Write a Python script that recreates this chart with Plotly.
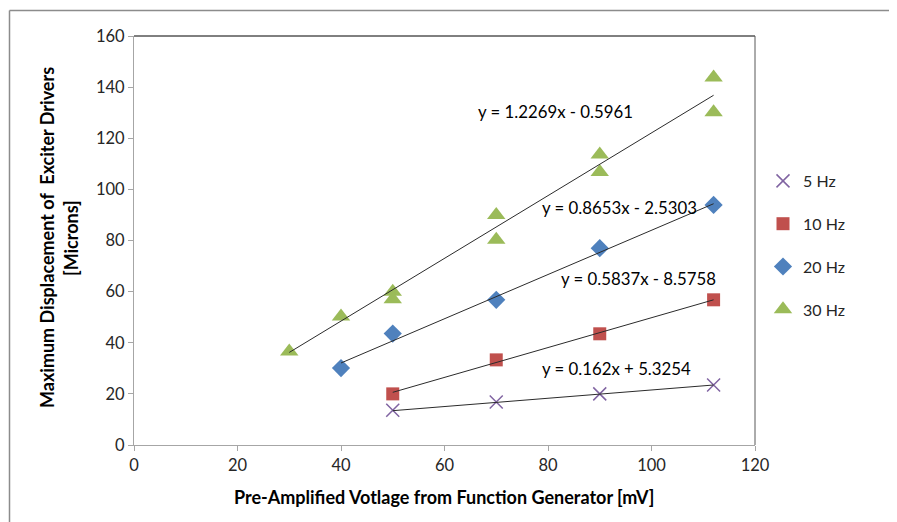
import plotly.graph_objects as go

# ---- data ----
series_names = ["5 Hz", "10 Hz", "20 Hz", "30 Hz"]
x_5hz = [50, 70, 90, 112]
y_5hz = [13.6, 16.8, 20.0, 23.5]
x_10hz = [50, 70, 90, 112]
y_10hz = [20.0, 33.3, 43.5, 56.8]
x_20hz = [40, 50, 70, 90, 112]
y_20hz = [30.1, 43.6, 56.8, 77.0, 93.9]
x_30hz = [30, 40, 50, 50, 70, 70, 90, 90, 112, 112]
y_30hz = [36.6, 50.3, 60.0, 57.0, 90.0, 80.3, 113.6, 106.8, 143.8, 130.2]

# trendline coefficients (slope, intercept) as printed on chart
slopes = [0.162, 0.5837, 0.8653, 1.2269]
intercepts = [5.3254, -8.5758, -2.5303, -0.5961]
equations = ["y = 0.162x + 5.3254", "y = 0.5837x - 8.5758",
             "y = 0.8653x - 2.5303", "y = 1.2269x - 0.5961"]
eq_pos_x = [93.3, 97.4, 93.9, 81.4]
eq_pos_y = [30.1, 65.3, 93.1, 130.3]

x_ticks = [0, 20, 40, 60, 80, 100, 120]
y_ticks = [0, 20, 40, 60, 80, 100, 120, 140, 160]

xs = [x_5hz, x_10hz, x_20hz, x_30hz]
ys = [y_5hz, y_10hz, y_20hz, y_30hz]
colors = ["#8064A2", "#C0504D", "#4F81BD", "#9BBB59"]
symbols = ["x-thin", "square", "diamond", "triangle-up"]
sizes = [13, 13, 14, 16]

FONT = "Lato"
fig = go.Figure()

for i in range(4):
    marker = dict(symbol=symbols[i], size=sizes[i], color=colors[i])
    if symbols[i] == "x-thin":
        marker["line"] = dict(color=colors[i], width=1.5)
    else:
        marker["line"] = dict(width=0)
    fig.add_trace(go.Scatter(x=xs[i], y=ys[i], mode="markers", name=series_names[i],
                             marker=marker, legendgroup=series_names[i]))

for i in range(4):
    x0, x1 = min(xs[i]), max(xs[i])
    fig.add_trace(go.Scatter(x=[x0, x1],
                             y=[slopes[i] * x0 + intercepts[i], slopes[i] * x1 + intercepts[i]],
                             mode="lines", line=dict(color="#2b2b2b", width=1),
                             showlegend=False, hoverinfo="skip"))

for i in range(4):
    fig.add_annotation(x=eq_pos_x[i], y=eq_pos_y[i], text=equations[i], showarrow=False,
                       font=dict(family=FONT, size=16.8, color="#000000"),
                       xanchor="center", yanchor="middle")

# page-pixel geometry (figure div sits 8px inside the page because of body margin)
OFF = 8
W, H = 889, 514
PL, PR, PT, PB = 134, 755, 36, 445   # plot area in page pixels
L = PL - OFF
T = PT - OFF
R = (W + OFF) - PR
B = (H + OFF) - PB
pw, ph = PR - PL, PB - PT

def px_x(p):
    return (p - PL) / pw

def px_y(p):
    return (PB - p) / ph

# axis titles
TITLE_SIZE = 18
fig.add_annotation(xref="paper", yref="paper", x=px_x(47), y=px_y(238),
                   text="<b>Maximum Displacement of  Exciter Drivers</b>", textangle=-90,
                   showarrow=False, font=dict(family=FONT, size=TITLE_SIZE, color="#000000"),
                   xanchor="center", yanchor="middle")
fig.add_annotation(xref="paper", yref="paper", x=px_x(71), y=px_y(238),
                   text="<b>[Microns]</b>", textangle=-90,
                   showarrow=False, font=dict(family=FONT, size=TITLE_SIZE, color="#000000"),
                   xanchor="center", yanchor="middle")
fig.add_annotation(xref="paper", yref="paper", x=px_x(444), y=px_y(497),
                   text="<b>Pre-Amplified Votlage from Function Generator [mV]</b>",
                   showarrow=False, font=dict(family=FONT, size=TITLE_SIZE, color="#000000"),
                   xanchor="center", yanchor="middle")

# plot area top/right borders and outer chart frame (top and left edges visible)
fig.add_shape(type="line", xref="paper", yref="paper", x0=0, x1=1, y0=1, y1=1,
              line=dict(color="#000000", width=1))
fig.add_shape(type="line", xref="paper", yref="paper", x0=1, x1=1, y0=0, y1=1,
              line=dict(color="#595959", width=1))
fig.add_shape(type="line", xref="paper", yref="paper", x0=px_x(9.5), x1=px_x(897),
              y0=px_y(10.5), y1=px_y(10.5), line=dict(color="#8c8c8c", width=1.5))
fig.add_shape(type="line", xref="paper", yref="paper", x0=px_x(9.5), x1=px_x(9.5),
              y0=px_y(10.5), y1=px_y(522), line=dict(color="#8c8c8c", width=1.5))

axis_common = dict(showgrid=False, zeroline=False, showline=True, linecolor="#a6a6a6",
                   linewidth=1, ticks="outside", ticklen=5, tickcolor="#a6a6a6",
                   tickfont=dict(family=FONT, size=16.5, color="#262626"))

fig.update_layout(
    width=W, height=H,
    margin=dict(l=L, r=R, t=T, b=B, autoexpand=False),
    paper_bgcolor="white", plot_bgcolor="white",
    xaxis=dict(range=[0, 120], tickvals=x_ticks, **axis_common),
    yaxis=dict(range=[0, 160], tickvals=y_ticks, **axis_common),
    legend=dict(x=px_x(763), y=px_y(164), xanchor="left", yanchor="top",
                font=dict(family=FONT, size=16, color="#262626"),
                tracegroupgap=19, bgcolor="rgba(0,0,0,0)"),
    showlegend=True,
)

fig.write_html("out.html")
